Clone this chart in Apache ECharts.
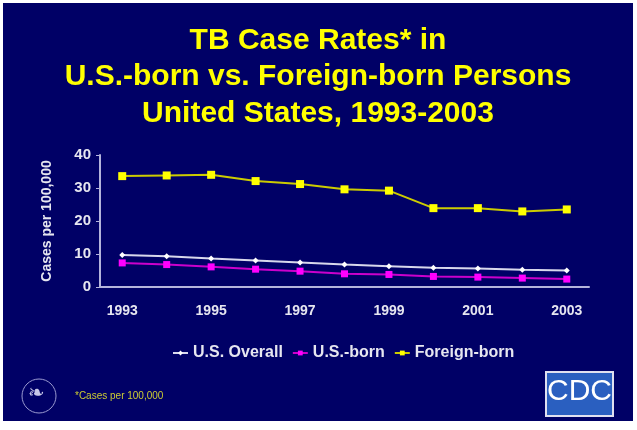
<!DOCTYPE html>
<html>
<head>
<meta charset="utf-8">
<script src="https://cdn.jsdelivr.net/npm/echarts@6/dist/echarts.min.js"></script>
<style>
  html, body { margin: 0; padding: 0; background: #fff; }
  #chart { width: 637px; height: 430px; }
</style>
</head>
<body>
<div id="chart"></div>
<script>
// TB case rates, cases per 100,000
const years = ['1993', '1994', '1995', '1996', '1997', '1998', '1999', '2000', '2001', '2002', '2003'];
const usOverall = [9.7, 9.3, 8.6, 8.0, 7.4, 6.8, 6.3, 5.8, 5.6, 5.2, 5.0];
const usBorn = [7.3, 6.8, 6.1, 5.4, 4.8, 4.0, 3.8, 3.2, 3.0, 2.7, 2.4];
const foreignBorn = [33.6, 33.8, 34.0, 32.1, 31.2, 29.6, 29.2, 23.9, 23.9, 22.9, 23.5];
const yTicks = [0, 10, 20, 30, 40];

const navy = '#000066';
const axisColor = '#b4b4dc';
const labelColor = '#e6e6f0';
const font = '"Liberation Sans", Arial, sans-serif';

const chart = echarts.init(document.getElementById('chart'), null, { renderer: 'canvas' });

const mkSeries = (name, data, lineColor, markColor, symbol, size) => ({
  name,
  type: 'line',
  data,
  symbol,
  symbolSize: size,
  showSymbol: true,
  lineStyle: { color: lineColor, width: 2 },
  itemStyle: { color: markColor, borderWidth: 0 },
  emphasis: { disabled: true },
  z: 3,
});

chart.setOption({
  backgroundColor: '#ffffff',
  animation: false,
  textStyle: { fontFamily: font },
  graphic: [
    { type: 'rect', shape: { x: 3, y: 3, width: 630, height: 418 }, style: { fill: navy }, z: -10 },
    {
      type: 'text', x: 318, y: 22,
      style: {
        text: 'TB Case Rates* in\nU.S.-born vs. Foreign-born Persons\nUnited States, 1993-2003',
        fill: '#ffff00', font: 'bold 30px ' + font, align: 'center', lineHeight: 36.5,
      },
    },
    {
      type: 'text', x: 75, y: 391,
      style: { text: '*Cases per 100,000', fill: '#cccc33', font: '10px ' + font },
    },
    {
      type: 'circle', shape: { cx: 39, cy: 396, r: 17 },
      style: { fill: 'none', stroke: '#9a9ad0', lineWidth: 1 },
    },
    {
      type: 'text', x: 28, y: 384,
      style: { text: '\u2767', fill: '#c8c8e8', font: '20px "DejaVu Sans"' },
    },
    {
      type: 'rect', shape: { x: 546, y: 372, width: 67, height: 44 },
      style: { fill: '#2a5fc0', stroke: '#e0e0f0', lineWidth: 2 },
    },
    {
      type: 'text', x: 579.5, y: 377,
      style: { text: 'CDC', fill: '#ffffff', align: 'center', font: '30px "Liberation Sans Narrow", "Liberation Sans", sans-serif' },
    },
  ],
  legend: {
    top: 340,
    left: 167,
    itemWidth: 15,
    itemHeight: 6,
    itemGap: 9,
    textStyle: { color: labelColor, fontSize: 16, fontWeight: 'bold', fontFamily: font },
    data: ['U.S. Overall', 'U.S.-born', 'Foreign-born'],
  },
  grid: { left: 100, right: 48, top: 155, bottom: 143 },
  xAxis: {
    type: 'category',
    data: years,
    boundaryGap: true,
    axisLine: { lineStyle: { color: axisColor, width: 2 } },
    axisTick: { alignWithLabel: true, length: 6, lineStyle: { color: axisColor, width: 1 } },
    axisLabel: {
      color: labelColor, fontSize: 14, fontWeight: 'bold', margin: 17,
      interval: 0,
      formatter: (v, i) => (i % 2 === 0 ? v : ''),
    },
    splitLine: { show: false },
  },
  yAxis: {
    type: 'value',
    min: yTicks[0],
    max: yTicks[yTicks.length - 1],
    interval: 10,
    name: 'Cases per 100,000',
    nameLocation: 'middle',
    nameGap: 46,
    nameTextStyle: { color: labelColor, fontSize: 14, fontWeight: 'bold' },
    axisLine: { show: true, lineStyle: { color: axisColor, width: 2 } },
    axisTick: { show: true, length: 4, lineStyle: { color: axisColor } },
    axisLabel: { color: labelColor, fontSize: 15, fontWeight: 'bold', margin: 9 },
    splitLine: { show: false },
  },
  series: [
    mkSeries('U.S. Overall', usOverall, '#d8d8ec', '#ffffff', 'diamond', 6),
    mkSeries('U.S.-born', usBorn, '#cc00cc', '#ff00ff', 'rect', 7),
    mkSeries('Foreign-born', foreignBorn, '#cccc00', '#ffff00', 'rect', 8),
  ],
});
</script>
</body>
</html>
